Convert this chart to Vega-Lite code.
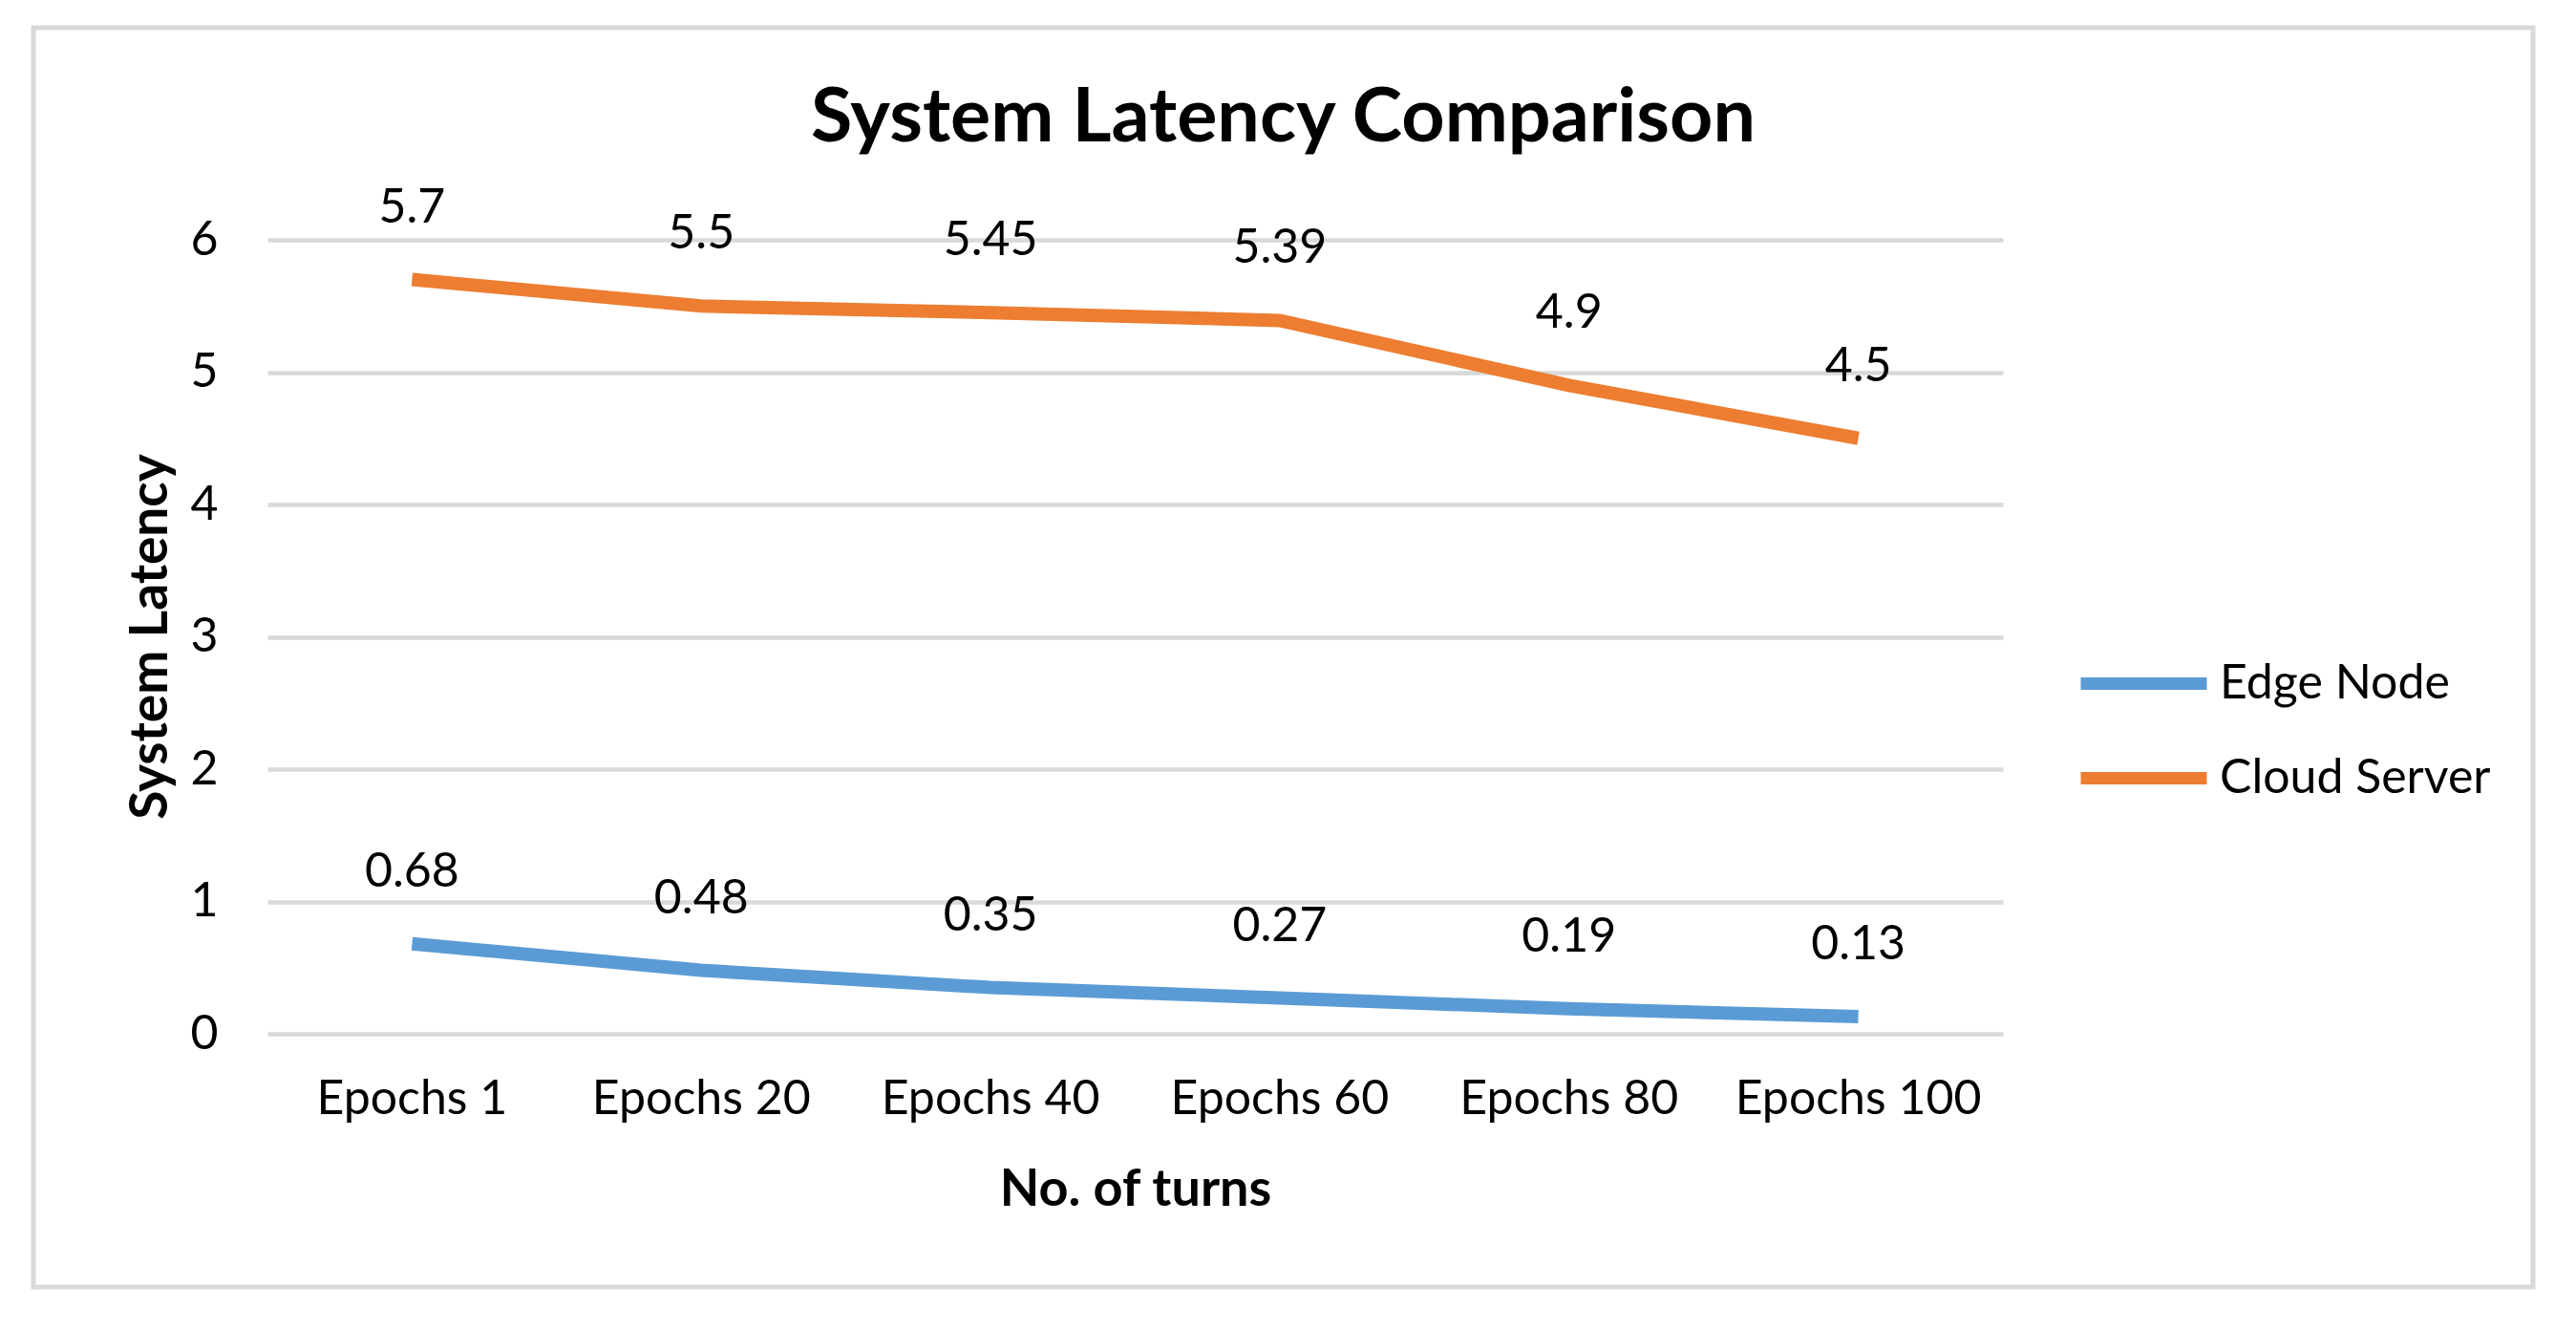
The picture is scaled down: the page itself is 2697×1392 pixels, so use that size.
{
  "$schema": "https://vega.github.io/schema/vega-lite/v6.json",
  "width": 2617,
  "height": 1318,
  "autosize": {"type": "none"},
  "padding": {"left": 35, "top": 29, "right": 45, "bottom": 45},
  "background": "white",
  "config": {
    "font": "Lato",
    "view": {"stroke": "#d9d9d9", "strokeWidth": 5}
  },
  "title": {
    "text": "System Latency Comparison",
    "fontSize": 79,
    "fontWeight": "bold",
    "color": "#000000",
    "anchor": "middle",
    "frame": "group",
    "offset": -136
  },
  "data": {
    "values": [
      {"epoch": "Epochs 1", "series": "Edge Node", "latency": 0.68},
      {"epoch": "Epochs 20", "series": "Edge Node", "latency": 0.48},
      {"epoch": "Epochs  40", "series": "Edge Node", "latency": 0.35},
      {"epoch": "Epochs 60", "series": "Edge Node", "latency": 0.27},
      {"epoch": "Epochs 80", "series": "Edge Node", "latency": 0.19},
      {"epoch": "Epochs 100", "series": "Edge Node", "latency": 0.13},
      {"epoch": "Epochs 1", "series": "Cloud Server", "latency": 5.7},
      {"epoch": "Epochs 20", "series": "Cloud Server", "latency": 5.5},
      {"epoch": "Epochs  40", "series": "Cloud Server", "latency": 5.45},
      {"epoch": "Epochs 60", "series": "Cloud Server", "latency": 5.39},
      {"epoch": "Epochs 80", "series": "Cloud Server", "latency": 4.9},
      {"epoch": "Epochs 100", "series": "Cloud Server", "latency": 4.5}
    ]
  },
  "encoding": {
    "x": {
      "field": "epoch",
      "type": "nominal",
      "sort": null,
      "scale": {"type": "band", "range": [245, 2062], "paddingInner": 0, "paddingOuter": 0},
      "axis": {
        "title": "No. of turns",
        "labelAngle": 0,
        "domain": false,
        "ticks": false,
        "tickSize": 0,
        "grid": false,
        "labelPadding": 0,
        "offset": -197,
        "labelBaseline": "middle",
        "labelFontSize": 50,
        "labelColor": "#000000",
        "labelLimit": 0,
        "labelOverlap": false,
        "titleFontSize": 54,
        "titleFontWeight": "bold",
        "titleColor": "#000000",
        "titleY": 95,
        "titleBaseline": "middle"
      }
    },
    "y": {
      "field": "latency",
      "type": "quantitative",
      "scale": {"domain": [0, 6], "range": [1053, 222], "nice": false},
      "axis": {
        "title": "System Latency",
        "values": [0, 1, 2, 3, 4, 5, 6],
        "grid": true,
        "gridColor": "#d9d9d9",
        "gridWidth": 4.5,
        "domain": false,
        "ticks": false,
        "tickSize": 0,
        "labelPadding": 0,
        "offset": -193,
        "labelFontSize": 50,
        "labelColor": "#000000",
        "titleFontSize": 55,
        "titleFontWeight": "bold",
        "titleColor": "#000000",
        "titleX": -71,
        "titleY": 637,
        "titleAngle": -90,
        "titleBaseline": "middle",
        "titleAlign": "center"
      }
    }
  },
  "layer": [
    {
      "mark": {"type": "line", "strokeWidth": 14, "clip": false},
      "encoding": {
        "color": {
          "field": "series",
          "type": "nominal",
          "scale": {"domain": ["Edge Node", "Cloud Server"], "range": ["#5B9BD5", "#ED7D31"]},
          "legend": {
            "title": null,
            "orient": "none",
            "legendX": 2137,
            "legendY": 614,
            "padding": 0,
            "symbolType": "stroke",
            "symbolSize": 17424,
            "symbolStrokeWidth": 13,
            "labelFontSize": 50,
            "labelColor": "#000000",
            "labelOffset": 7,
            "labelLimit": 0,
            "rowPadding": -41
          }
        }
      }
    },
    {
      "mark": {"type": "text", "dy": -75, "baseline": "middle", "fontSize": 50, "color": "#000000"},
      "encoding": {
        "text": {"field": "latency", "type": "quantitative"}
      }
    }
  ]
}
